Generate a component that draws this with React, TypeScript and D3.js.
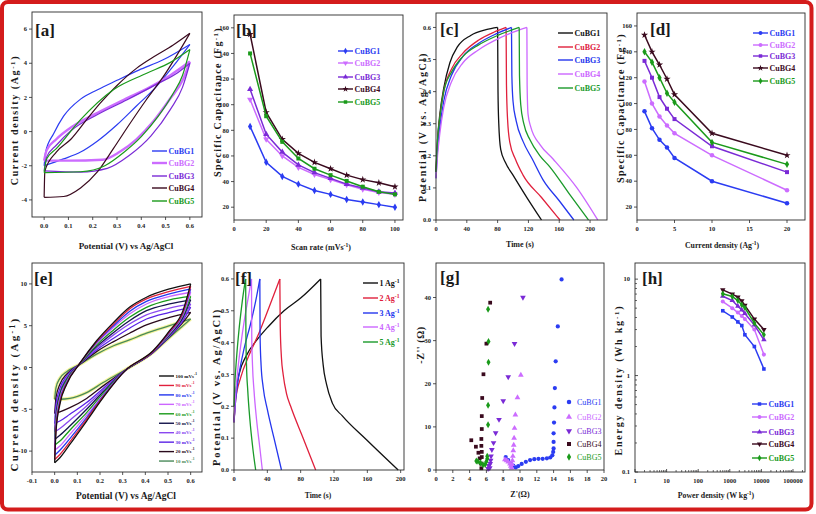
import React from "react";
import * as d3 from "d3";

type Pt = [number, number];
const FONT = "'Liberation Serif', 'DejaVu Serif', serif";

// ---------------- shared ----------------
const sampleNames = ["CuBG1", "CuBG2", "CuBG3", "CuBG4", "CuBG5"];
const sampleColors = ["#2b3cf2", "#cc6cff", "#7a2ad6", "#3a0a1e", "#1a9a1a"];
const gcdColors = ["#111111", "#e0203c", "#2436ee", "#cc66ff", "#1a9a2a"];

// ---------------- [a] CV (V, A/g) ----------------
const aCuBG1Fwd: Pt[] = [[0,-2.0],[0.006,-1.2],[0.04,-0.1],[0.08,0.9],[0.15,1.9],[0.22,2.45],[0.3,3.0],[0.39,3.6],[0.49,4.2],[0.6,5.1]];
const aCuBG1Rev: Pt[] = [[0,-2.0],[0.08,-1.6],[0.15,-1.2],[0.22,-0.55],[0.3,0.4],[0.38,1.5],[0.46,2.6],[0.53,3.8],[0.6,5.1]];
const aCuBG2Fwd: Pt[] = [[0,-1.7],[0.01,-1.1],[0.05,-0.45],[0.12,0.33],[0.22,1.1],[0.33,1.87],[0.44,2.63],[0.52,3.3],[0.6,4.1]];
const aCuBG2Rev: Pt[] = [[0,-1.7],[0.1,-1.7],[0.24,-1.65],[0.31,-1.2],[0.38,-0.45],[0.45,0.6],[0.52,1.95],[0.57,3.0],[0.6,4.1]];
const aCuBG3Fwd: Pt[] = [[0,-2.3],[0.01,-1.5],[0.05,-0.8],[0.11,0.05],[0.22,1.0],[0.34,1.85],[0.46,2.75],[0.55,3.45],[0.6,4.0]];
const aCuBG3Rev: Pt[] = [[0,-2.3],[0.15,-2.37],[0.26,-2.15],[0.35,-1.4],[0.44,-0.25],[0.52,1.3],[0.57,2.6],[0.6,4.0]];
const aCuBG4Fwd: Pt[] = [[0,-3.85],[0.003,-2.3],[0.05,-1.2],[0.11,-0.45],[0.175,0.7],[0.23,1.65],[0.3,2.7],[0.38,3.7],[0.46,4.45],[0.53,5.05],[0.6,5.75]];
const aCuBG4Rev: Pt[] = [[0,-3.85],[0.08,-3.8],[0.15,-3.3],[0.22,-2.35],[0.285,-1.0],[0.35,0.4],[0.42,1.85],[0.49,3.2],[0.6,5.75]];
const aCuBG5Fwd: Pt[] = [[0,-2.4],[0.01,-1.6],[0.05,-1.0],[0.15,0.7],[0.285,2.45],[0.42,3.4],[0.52,4.05],[0.6,4.8]];
const aCuBG5Rev: Pt[] = [[0,-2.4],[0.15,-2.35],[0.25,-2.0],[0.33,-1.2],[0.4,-0.3],[0.47,0.9],[0.53,2.2],[0.57,3.3],[0.6,4.8]];
const aLoops = [[aCuBG1Fwd, aCuBG1Rev],[aCuBG2Fwd, aCuBG2Rev],[aCuBG3Fwd, aCuBG3Rev],[aCuBG4Fwd, aCuBG4Rev],[aCuBG5Fwd, aCuBG5Rev]];

// ---------------- [b] capacitance vs scan rate ----------------
const bScanRate = [10,20,30,40,50,60,70,80,90,100];
const bCuBG1 = [83,55,44,38,33,30,26,24,22,20];
const bCuBG2 = [104,73,60,51,45.5,41.5,37.5,34,31.5,30];
const bCuBG3 = [112,77,63,53,47,42.5,38,35,32,31];
const bCuBG4 = [155,94,73,62,55,50,45,41.5,39,36];
const bCuBG5 = [140,91,71,58,50,45,40.5,36,32,30];
const bSeries = [bCuBG1,bCuBG2,bCuBG3,bCuBG4,bCuBG5];
const bMarkers = ["diamond","tridown","tri","star","square"];

// ---------------- [c] GCD of samples (s, V) ----------------
const cCuBG1: Pt[] = [[0,0.15],[2,0.25],[5,0.33],[10,0.41],[18,0.49],[28,0.54],[45,0.575],[65,0.593],[80,0.6]];
const cCuBG1Dis: Pt[] = [[80,0.6],[80.5,0.4],[81.5,0.3],[84,0.22],[90,0.18],[100,0.14],[118,0.07],[137,0]];
const cCuBG2: Pt[] = [[0,0.15],[2,0.24],[5,0.32],[10,0.4],[20,0.47],[35,0.52],[55,0.56],[75,0.585],[91,0.6]];
const cCuBG2Dis: Pt[] = [[91,0.6],[91.5,0.42],[93,0.31],[96,0.24],[103,0.19],[113,0.14],[137,0.07],[161,0]];
const cCuBG3: Pt[] = [[0,0.13],[2,0.22],[5,0.29],[10,0.37],[20,0.45],[35,0.51],[55,0.55],[78,0.58],[98,0.6]];
const cCuBG3Dis: Pt[] = [[98,0.6],[98.5,0.45],[100,0.37],[104,0.31],[113,0.245],[125,0.19],[139,0.125],[160,0.06],[179,0]];
const cCuBG4: Pt[] = [[0,0.13],[2,0.2],[5,0.27],[10,0.35],[20,0.43],[35,0.49],[55,0.53],[85,0.57],[118,0.6]];
const cCuBG4Dis: Pt[] = [[118,0.6],[118.3,0.42],[119.5,0.33],[123,0.29],[135,0.235],[152,0.19],[183,0.1],[210,0]];
const cCuBG5: Pt[] = [[0,0.15],[2,0.25],[5,0.32],[10,0.4],[20,0.46],[35,0.51],[55,0.545],[80,0.575],[108,0.6]];
const cCuBG5Dis: Pt[] = [[108,0.6],[108.4,0.45],[110,0.36],[114,0.3],[122,0.25],[135,0.2],[148,0.165],[174,0.078],[198,0]];
const cCurves = [[cCuBG1,cCuBG1Dis],[cCuBG2,cCuBG2Dis],[cCuBG3,cCuBG3Dis],[cCuBG4,cCuBG4Dis],[cCuBG5,cCuBG5Dis]];

// ---------------- [d] capacitance vs current density ----------------
const dCurrent = [1,2,3,4,5,10,20];
const dCuBG1 = [94,81,72,66,58,40,23];
const dCuBG2 = [117,100,90,83,77,60,33];
const dCuBG3 = [133,120,105,96,88,67,47];
const dCuBG4 = [153,140,130,119,107,77,60];
const dCuBG5 = [140,132,120,108,101,70,53];
const dSeries = [dCuBG1,dCuBG2,dCuBG3,dCuBG4,dCuBG5];
const dMarkers = ["circle","circle","square","star","diamond"];

// ---------------- [e] CV at scan rates ----------------
const eRates = [100,90,80,70,60,50,40,30,20,10];
const eColors = ["#111111","#e0203c","#2436ee","#cc66ff","#1a9a1a","#14144a","#8a48f0","#5a22e6","#2a0a1c","#4a8a5a"];
const eFwdV = [0,0.006,0.023,0.053,0.11,0.185,0.26,0.33,0.405,0.507,0.6];
const eFwd = [
  [-11.4,-7.6,-4.4,-2.0,0.45,3.2,5.4,7.2,8.4,9.4,10.0],
  [-11.0,-7.3,-4.2,-1.9,0.45,3.1,5.2,7.0,8.2,9.1,9.7],
  [-10.5,-7.0,-4.0,-1.8,0.45,3.0,5.0,6.7,7.9,8.8,9.4],
  [-9.9,-6.6,-3.7,-1.7,0.45,2.9,4.8,6.4,7.6,8.5,9.0],
  [-9.3,-6.2,-3.5,-1.5,0.4,2.7,4.5,6.0,7.2,8.1,8.5],
  [-8.6,-5.7,-3.2,-1.4,0.4,2.5,4.2,5.6,6.8,7.6,8.1],
  [-7.7,-5.1,-2.9,-1.2,0.4,2.3,3.9,5.2,6.3,7.1,7.6],
  [-6.7,-4.4,-2.5,-1.0,0.4,2.1,3.5,4.7,5.8,6.6,7.2],
  [-5.5,-3.6,-2.0,-0.8,0.35,1.9,3.1,4.1,5.1,6.0,6.6],
  [-3.8,-2.4,-1.3,-0.5,0.35,1.6,2.6,3.3,4.1,5.0,5.8],
];
const eRevV = [0,0.023,0.067,0.141,0.214,0.31,0.434,0.507,0.566,0.6];
const eRev = [
  [-11.4,-10.8,-9.2,-6.4,-3.6,-0.4,2.0,4.4,6.8,10.0],
  [-11.0,-10.4,-8.9,-6.2,-3.5,-0.4,1.95,4.3,6.6,9.7],
  [-10.5,-9.9,-8.5,-6.0,-3.4,-0.4,1.9,4.2,6.5,9.4],
  [-9.9,-9.4,-8.0,-5.7,-3.3,-0.4,1.9,4.1,6.3,9.0],
  [-9.3,-8.8,-7.5,-5.4,-3.1,-0.4,1.9,4.0,6.2,8.5],
  [-8.6,-8.1,-7.0,-5.0,-2.9,-0.4,1.85,3.9,6.0,8.1],
  [-7.7,-7.3,-6.3,-4.6,-2.7,-0.35,1.85,3.8,5.8,7.6],
  [-6.7,-6.4,-5.6,-4.2,-2.5,-0.35,1.8,3.75,5.6,7.2],
  [-5.5,-5.3,-4.8,-3.7,-2.2,-0.35,1.8,3.7,5.4,6.6],
  [-3.8,-3.8,-3.7,-3.0,-1.8,-0.3,1.8,3.6,5.0,5.8],
];

// ---------------- [f] GCD at current densities ----------------
const fLabels = ["1","2","3","4","5"];
const fCharge1: Pt[] = [[0,0.15],[2,0.24],[6,0.3],[15,0.36],[28,0.41],[41,0.45],[60,0.5],[80,0.54],[104,0.6]];
const fDis1: Pt[] = [[104,0.6],[104.5,0.42],[107,0.33],[111,0.27],[118,0.21],[130,0.17],[159,0.095],[197,0]];
const fCharge2: Pt[] = [[0,0.15],[2,0.22],[8,0.29],[18,0.36],[30,0.43],[42,0.51],[55,0.6]];
const fDis2: Pt[] = [[55,0.6],[55.5,0.45],[57,0.35],[59,0.3],[63,0.24],[68,0.2],[83,0.1],[98,0]];
const fCharge3: Pt[] = [[0,0.15],[2,0.22],[6,0.3],[12,0.38],[20,0.46],[26,0.53],[31,0.6]];
const fDis3: Pt[] = [[31,0.6],[31.3,0.42],[32.5,0.33],[35,0.26],[40,0.19],[48,0.1],[57,0]];
const fCharge4: Pt[] = [[0,0.15],[1.5,0.22],[4,0.3],[8,0.39],[13,0.48],[17,0.54],[21,0.6]];
const fDis4: Pt[] = [[21,0.6],[21.3,0.42],[22.2,0.33],[24,0.25],[27,0.16],[31,0.07],[34,0]];
const fCharge5: Pt[] = [[0,0.2],[1,0.27],[3,0.35],[6,0.44],[9,0.51],[11.5,0.56],[14,0.6]];
const fDis5: Pt[] = [[14,0.6],[14.3,0.42],[15,0.33],[16.5,0.25],[19,0.16],[22.5,0.07],[26,0]];
const fCurves = [[fCharge1,fDis1],[fCharge2,fDis2],[fCharge3,fDis3],[fCharge4,fDis4],[fCharge5,fDis5]];

// ---------------- [g] Nyquist ----------------
const gCuBG1: Pt[] = [[8.3,3.0],[8.6,2.3],[8.9,1.6],[9.2,1.0],[9.5,0.6],[9.8,0.9],[10.2,1.4],[10.7,1.9],[11.2,2.3],[11.7,2.5],[12.2,2.6],[12.7,2.6],[13.2,2.7],[13.6,2.9],[13.85,3.4],[13.95,4.2],[14.0,5.0],[14.0,6.5],[14.0,8.5],[14.05,11],[14.1,14.5],[14.15,19],[14.25,25.2],[14.5,33.3],[14.95,44.2]];
const gCuBG2: Pt[] = [[8.2,2.4],[8.4,2.2],[8.6,1.9],[8.8,1.4],[8.9,0.9],[9.0,0.5],[9.05,1.3],[9.1,2.2],[9.15,3.2],[9.2,4.5],[9.25,5.8],[9.3,7.4],[9.35,9.7],[9.45,12.8],[9.7,16.8],[10.1,22]];
const gCuBG3: Pt[] = [[6.2,0.3],[6.3,1.0],[6.4,0.5],[6.45,1.5],[6.5,2.2],[6.55,3.2],[6.65,4.7],[6.85,6.3],[7.1,8.6],[7.5,11.7],[8.0,16.0],[8.6,21.6],[9.35,29.3],[10.35,40]];
const gCuBG4: Pt[] = [[4.2,6.9],[4.75,5.4],[5.05,4.0],[5.2,2.7],[5.35,1.5],[5.4,0.4],[5.45,3.0],[5.45,4.2],[5.4,5.6],[5.4,7.2],[5.45,9.5],[5.45,12.5],[5.5,16.7],[5.65,22.2],[6.0,29.3],[6.45,38.8]];
const gCuBG5: Pt[] = [[4.8,2.1],[5.0,2.0],[5.3,1.6],[5.6,1.2],[5.85,1.3],[6.0,2.0],[6.1,2.6],[6.1,3.2],[6.2,10.5],[6.2,15.0],[6.25,25.0],[6.25,29.8],[6.2,37.3]];
const gSeries = [gCuBG1,gCuBG2,gCuBG3,gCuBG4,gCuBG5];
const gMarkers = ["circle","tri","tridown","square","diamond"];

// ---------------- [h] Ragone ----------------
const hPower = [600,1200,1800,2400,3000,6000,12000];
const hCuBG1 = [4.7,4.05,3.6,3.3,2.65,2.0,1.17];
const hCuBG2 = [5.85,5.0,4.5,4.15,3.85,3.0,1.65];
const hCuBG3 = [6.65,6.0,5.25,4.8,4.4,3.35,2.35];
const hCuBG4 = [7.75,7.0,6.5,5.95,5.35,3.85,3.0];
const hCuBG5 = [7.05,6.6,6.0,5.4,5.05,3.5,2.65];
const hSeries = [hCuBG1,hCuBG2,hCuBG3,hCuBG4,hCuBG5];
const hMarkers = ["square","circle","tri","tridown","diamond"];

// ================= helpers =================
const symbolTypes: any = {
  circle: d3.symbolCircle, square: d3.symbolSquare, tri: d3.symbolTriangle,
  tridown: d3.symbolTriangle, diamond: d3.symbolDiamond, star: d3.symbolStar, cross: d3.symbolCross,
};
function Marker({ type, x, y, color, size = 14 }: any) {
  const d = d3.symbol(symbolTypes[type], size)() as string;
  return <path d={d} transform={`translate(${x},${y})${type === "tridown" ? " rotate(180)" : ""}`} fill={color} />;
}

function curvePath(xs: any, ys: any, pts: Pt[]) {
  return d3.line<Pt>().x(d => xs(d[0])).y(d => ys(d[1])).curve(d3.curveMonotoneX)(pts) as string;
}
function straightPath(xs: any, ys: any, pts: Pt[]) {
  return d3.line<Pt>().x(d => xs(d[0])).y(d => ys(d[1]))(pts) as string;
}

// text with optional superscript "-1" followed by tail
function Lbl({ base, sup, tail }: any) {
  return (
    <>
      {base}
      {sup && <tspan dy={-3} fontSize="0.7em">{sup}</tspan>}
      {sup && <tspan dy={3}>{tail || ""}</tspan>}
    </>
  );
}

function Panel(p: any) {
  const { x0, x1, y0, y1, xs, ys } = p;
  const tl = 3;
  const xt = p.xTitle, yt = p.yTitle;
  return (
    <g>
      {p.children}
      <rect x={x0} y={y0} width={x1 - x0} height={y1 - y0} fill="none" stroke="#2a2a2a" strokeWidth={0.9} />
      {p.xTicks.map((v: number, i: number) => (
        <g key={"x" + i}>
          <line x1={xs(v)} x2={xs(v)} y1={y1} y2={p.inward ? y1 - tl : y1 + tl} stroke="#2a2a2a" strokeWidth={0.8} />
          <text x={xs(v)} y={y1 + 11} textAnchor="middle" fontSize={6.5} fontWeight="bold" fill="#222">{p.xFmt(v)}</text>
        </g>
      ))}
      {p.yTicks.map((v: number, i: number) => (
        <g key={"y" + i}>
          <line x1={x0} x2={p.inward ? x0 + tl : x0 - tl} y1={ys(v)} y2={ys(v)} stroke="#2a2a2a" strokeWidth={0.8} />
          <text x={x0 - 5} y={ys(v) + 2.2} textAnchor="end" fontSize={6.5} fontWeight="bold" fill="#222">{p.yFmt(v)}</text>
        </g>
      ))}
      {(p.xMinor || []).map((v: number, i: number) => (
        <line key={"xm" + i} x1={xs(v)} x2={xs(v)} y1={y1} y2={y1 - 2} stroke="#2a2a2a" strokeWidth={0.7} />
      ))}
      {(p.yMinor || []).map((v: number, i: number) => (
        <line key={"ym" + i} x1={x0} x2={x0 + 2} y1={ys(v)} y2={ys(v)} stroke="#2a2a2a" strokeWidth={0.7} />
      ))}
      <text x={p.label[1]} y={p.label[2]} fontSize={17} fontWeight="bold" fill="#1a1a1a">{p.label[0]}</text>
      <text x={xt.x} y={xt.y} textAnchor="middle" fontSize={xt.fs} letterSpacing={xt.ls || 0} fontWeight="bold" fill="#1a1a1a">
        <Lbl base={xt.base} sup={xt.sup} tail={xt.tail} />
      </text>
      <text transform={`translate(${yt.x},${yt.y}) rotate(-90)`} textAnchor="middle" fontSize={yt.fs} letterSpacing={yt.ls || 0} fontWeight="bold" fill="#1a1a1a">
        <Lbl base={yt.base} sup={yt.sup} tail={yt.tail} />
      </text>
    </g>
  );
}

function LineLegend({ x, rows, colors, labels, sups, markers, widths, fontSize = 8 }: any) {
  return (
    <g>
      {labels.map((lab: string, i: number) => (
        <g key={i}>
          <line x1={x} x2={x + 15} y1={rows[i]} y2={rows[i]} stroke={colors[i]} strokeWidth={widths ? widths[i] : 1.4} />
          {markers && <Marker type={markers[i]} x={x + 7.5} y={rows[i]} color={colors[i]} size={12} />}
          <text x={x + 16.5} y={rows[i] + fontSize * 0.35} fontSize={fontSize} fontWeight="bold" fill={colors[i]}>
            <Lbl base={lab} sup={sups ? "-1" : undefined} />
          </text>
        </g>
      ))}
    </g>
  );
}

const f1 = (v: number) => v.toFixed(1);
const f0 = (v: number) => String(v);
const range = (a: number, b: number, s: number) => d3.range(a, b + s / 2, s);

export default function App() {
  const aX = d3.scaleLinear([-0.05, 0.65], [32, 202]);
  const aY = d3.scaleLinear([-5, 7], [217, 12]);
  const bX = d3.scaleLinear([0, 105], [234, 403]);
  const bY = d3.scaleLinear([10, 170], [220, 15]);
  const cX = d3.scaleLinear([0, 222], [436, 607]);
  const cY = d3.scaleLinear([0, 0.645], [220, 13]);
  const dX = d3.scaleLinear([0, 22.4], [637, 805]);
  const dY = d3.scaleLinear([10, 170], [220, 13]);
  const eX = d3.scaleLinear([-0.1, 0.65], [32, 202]);
  const eY = d3.scaleLinear([-12.5, 12.5], [472, 263]);
  const fX = d3.scaleLinear([0, 204], [234, 404]);
  const fY = d3.scaleLinear([0, 0.65], [470, 263]);
  const gX = d3.scaleLinear([0, 20], [436, 604]);
  const gY = d3.scaleLinear([0, 48], [470, 263]);
  const hX = d3.scaleLog([1, 240000], [635, 805]);
  const hY = d3.scaleLog([0.1, 14.7], [472, 263]);

  const hXMinor: number[] = [];
  [1, 10, 100, 1000, 10000, 100000].forEach(dec => { for (let k = 2; k <= 9; k++) if (dec * k < 240000) hXMinor.push(dec * k); });
  const hYMinor: number[] = [];
  [0.1, 1, 10].forEach(dec => { for (let k = 2; k <= 9; k++) if (dec * k < 14.7) hYMinor.push(dec * k); });

  const gRows = [402, 417, 431, 444, 457];

  return (
    <svg width={816} height={514} style={{ position: "absolute", left: 0, top: 0, display: "block" }} fontFamily={FONT}>
      <rect x={0} y={0} width={816} height={514} fill="#ffffff" />
      <rect x={2} y={2} width={809.5} height={507.5} rx={6} fill="none" stroke="#d41c1c" strokeWidth={4} />

      {/* [a] */}
      <Panel x0={32} x1={202} y0={12} y1={217} xs={aX} ys={aY}
        xTicks={range(0, 0.6, 0.1)} yTicks={range(-4, 6, 2)} xFmt={f1} yFmt={f0}
        label={["[a]", 35, 36]}
        xTitle={{ base: "Potential (V) vs Ag/AgCl", x: 126, y: 249, fs: 9 }}
        yTitle={{ base: "Current density (Ag", sup: "-1", tail: ")", x: 18, y: 120, fs: 10, ls: 1.6 }}>
        {aLoops.map((loop, i) => (
          <g key={i} fill="none" stroke={sampleColors[i]} strokeWidth={i === 1 ? 2.4 : 1.2}>
            <path d={curvePath(aX, aY, loop[0])} />
            <path d={curvePath(aX, aY, loop[1])} />
          </g>
        ))}
        <LineLegend x={152} rows={[151, 163, 176, 188, 201]} colors={sampleColors} labels={sampleNames}
          widths={[1.4, 2.4, 1.4, 1.4, 1.4]} />
      </Panel>

      {/* [b] */}
      <Panel x0={234} x1={403} y0={15} y1={220} xs={bX} ys={bY}
        xTicks={range(0, 100, 20)} yTicks={range(20, 160, 20)} xFmt={f0} yFmt={f0}
        label={["[b]", 236, 36]}
        xTitle={{ base: "Scan rate (mVs", sup: "-1", tail: ")", x: 321, y: 250, fs: 8 }}
        yTitle={{ base: "Specific Capacitance (Fg", sup: "-1", tail: ")", x: 221, y: 102, fs: 10, ls: 1.3 }}>
        {bSeries.map((s, i) => {
          const pts: Pt[] = s.map((v, j) => [bScanRate[j], v]);
          return (
            <g key={i}>
              <path d={straightPath(bX, bY, pts)} fill="none" stroke={sampleColors[i]} strokeWidth={1.5} />
              {pts.map((p, j) => <Marker key={j} type={bMarkers[i]} x={bX(p[0])} y={bY(p[1])} color={sampleColors[i]} size={16} />)}
            </g>
          );
        })}
        <LineLegend x={338} rows={[51, 63, 77, 89, 102]} colors={sampleColors} labels={sampleNames} markers={bMarkers} />
      </Panel>

      {/* [c] */}
      <Panel x0={436} x1={607} y0={13} y1={220} xs={cX} ys={cY}
        xTicks={range(0, 200, 40)} yTicks={range(0, 0.6, 0.1)} xFmt={f0} yFmt={f1}
        label={["[c]", 440, 35]}
        xTitle={{ base: "Time (s)", x: 520, y: 247, fs: 8 }}
        yTitle={{ base: "Potential (V vs. Ag/AgCl)", x: 426, y: 127, fs: 10, ls: 1.7 }}>
        {cCurves.map((cv, i) => (
          <g key={i} fill="none" stroke={gcdColors[i]} strokeWidth={1.3}>
            <path d={curvePath(cX, cY, cv[0])} />
            <path d={curvePath(cX, cY, cv[1])} />
          </g>
        ))}
        <LineLegend x={558} rows={[33, 47, 60, 74, 88]} colors={gcdColors} labels={sampleNames} />
      </Panel>

      {/* [d] */}
      <Panel x0={637} x1={805} y0={13} y1={220} xs={dX} ys={dY}
        xTicks={range(0, 20, 5)} yTicks={range(20, 160, 20)} xFmt={f0} yFmt={f0}
        label={["[d]", 650, 35]}
        xTitle={{ base: "Current density (Ag", sup: "-1", tail: ")", x: 722, y: 248, fs: 7.8 }}
        yTitle={{ base: "Specific Capacitance (Fg", sup: "-1", tail: ")", x: 624, y: 108, fs: 10, ls: 1.3 }}>
        {dSeries.map((s, i) => {
          const pts: Pt[] = s.map((v, j) => [dCurrent[j], v]);
          return (
            <g key={i}>
              <path d={straightPath(dX, dY, pts)} fill="none" stroke={sampleColors[i]} strokeWidth={1.5} />
              {pts.map((p, j) => <Marker key={j} type={dMarkers[i]} x={dX(p[0])} y={dY(p[1])} color={sampleColors[i]} size={16} />)}
            </g>
          );
        })}
        <LineLegend x={753} rows={[33, 45, 56, 68, 81]} colors={sampleColors} labels={sampleNames} markers={dMarkers} />
      </Panel>

      {/* [e] */}
      <Panel x0={32} x1={202} y0={263} y1={472} xs={eX} ys={eY}
        xTicks={range(-0.1, 0.6, 0.1)} yTicks={range(-10, 10, 5)} xFmt={f1} yFmt={f0}
        label={["[e]", 34, 284]}
        xTitle={{ base: "Potential (V) vs Ag/AgCl", x: 126, y: 499, fs: 9.5 }}
        yTitle={{ base: "Current density (Ag", sup: "-1", tail: ")", x: 18, y: 394, fs: 11, ls: 2.3 }}>
        {eRates.map((r, k) => {
          const i = eRates.length - 1 - k;
          const fwd: Pt[] = eFwdV.map((v, j) => [v, eFwd[i][j]]);
          const rev: Pt[] = eRevV.map((v, j) => [v, eRev[i][j]]);
          return (
            <g key={i} fill="none">
              {i === 9 && <path d={curvePath(eX, eY, fwd)} stroke="#f6f59c" strokeWidth={3.4} />}
              {i === 9 && <path d={curvePath(eX, eY, rev)} stroke="#f6f59c" strokeWidth={3.4} />}
              <path d={curvePath(eX, eY, fwd)} stroke={eColors[i]} strokeWidth={1.3} />
              <path d={curvePath(eX, eY, rev)} stroke={eColors[i]} strokeWidth={1.3} />
            </g>
          );
        })}
        <LineLegend x={159} rows={eRates.map((_, i) => 376 + i * 9.45)} colors={eColors}
          labels={eRates.map(r => `${r} mVs`)} sups fontSize={5} />
      </Panel>

      {/* [f] */}
      <Panel x0={234} x1={404} y0={263} y1={470} xs={fX} ys={fY}
        xTicks={range(0, 200, 40)} yTicks={range(0, 0.6, 0.1)} xFmt={f0} yFmt={f1}
        label={["[f]", 235, 284]}
        xTitle={{ base: "Time (s)", x: 318, y: 498, fs: 7.5 }}
        yTitle={{ base: "Potential (V vs. Ag/AgCl)", x: 220, y: 387, fs: 10.5, ls: 1.8 }}>
        {fCurves.map((cv, i) => (
          <g key={i} fill="none" stroke={gcdColors[i]} strokeWidth={1.3}>
            <path d={curvePath(fX, fY, cv[0])} />
            <path d={curvePath(fX, fY, cv[1])} />
          </g>
        ))}
        <LineLegend x={363} rows={[283, 298, 313, 327, 342]} colors={gcdColors}
          labels={fLabels.map(l => `${l} Ag`)} sups />
      </Panel>

      {/* [g] */}
      <Panel x0={436} x1={604} y0={263} y1={470} xs={gX} ys={gY}
        xTicks={range(0, 20, 2)} yTicks={range(0, 40, 10)} xFmt={f0} yFmt={f0}
        label={["[g]", 440, 283]}
        xTitle={{ base: "Z'(Ω)", x: 520, y: 497, fs: 8 }}
        yTitle={{ base: "-Z'' (Ω)", x: 424, y: 345, fs: 10, ls: 0.6 }}>
        {gSeries.map((s, i) => (
          <g key={i}>
            {s.map((p, j) => <Marker key={j} type={gMarkers[i]} x={gX(p[0])} y={gY(p[1])} color={sampleColors[i]} size={14} />)}
          </g>
        ))}
        {sampleNames.map((n, i) => (
          <g key={n}>
            <Marker type={gMarkers[i]} x={569} y={gRows[i]} color={sampleColors[i]} size={16} />
            <text x={577} y={gRows[i] + 2.8} fontSize={8} fill={sampleColors[i]}>{n}</text>
          </g>
        ))}
      </Panel>

      {/* [h] */}
      <Panel x0={635} x1={805} y0={263} y1={472} xs={hX} ys={hY} inward
        xTicks={[1, 10, 100, 1000, 10000, 100000]} yTicks={[0.1, 1, 10]} xFmt={f0} yFmt={f0}
        xMinor={hXMinor} yMinor={hYMinor}
        label={["[h]", 642, 284]}
        xTitle={{ base: "Power density (W kg", sup: "-1", tail: ")", x: 716, y: 498, fs: 7.8 }}
        yTitle={{ base: "Energy density (Wh kg", sup: "-1", tail: ")", x: 622, y: 380, fs: 10, ls: 1.8 }}>
        {hSeries.map((s, i) => {
          const pts: Pt[] = s.map((v, j) => [hPower[j], v]);
          return (
            <g key={i}>
              <path d={straightPath(hX, hY, pts)} fill="none" stroke={sampleColors[i]} strokeWidth={1.5} />
              {pts.map((p, j) => <Marker key={j} type={hMarkers[i]} x={hX(p[0])} y={hY(p[1])} color={sampleColors[i]} size={13} />)}
            </g>
          );
        })}
        <LineLegend x={752} rows={[404, 417, 432, 444, 458]} colors={sampleColors} labels={sampleNames} markers={hMarkers} />
      </Panel>
    </svg>
  );
}
